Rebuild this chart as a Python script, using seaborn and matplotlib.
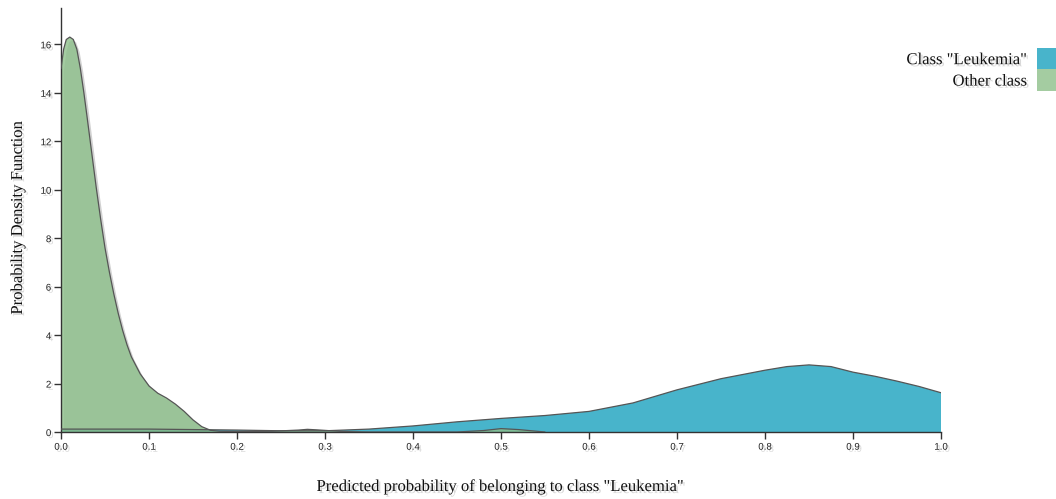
import matplotlib
matplotlib.use("Agg")
import matplotlib.pyplot as plt
import matplotlib.patheffects as pe
from matplotlib.patches import Patch
import seaborn as sns
import pandas as pd

# Density estimate for samples of the "Leukemia" class
leuk_x = [0.0, 0.1, 0.2, 0.25, 0.3, 0.35, 0.4, 0.45, 0.5, 0.55, 0.6, 0.65,
          0.7, 0.75, 0.8, 0.825, 0.85, 0.875, 0.9, 0.925, 0.95, 0.975, 1.0]
leuk_y = [0.12, 0.12, 0.08, 0.05, 0.05, 0.12, 0.25, 0.42, 0.56, 0.68, 0.85, 1.2,
          1.74, 2.2, 2.55, 2.7, 2.77, 2.7, 2.47, 2.3, 2.1, 1.88, 1.62]

# Density estimate for samples of all other classes
other_x = [0.0, 0.003, 0.006, 0.01, 0.014, 0.018, 0.022, 0.026, 0.03, 0.035, 0.04,
           0.045, 0.05, 0.055, 0.06, 0.065, 0.07, 0.075, 0.08, 0.09, 0.1, 0.11,
           0.12, 0.13, 0.14, 0.15, 0.16, 0.17, 0.18, 0.2, 0.24, 0.27, 0.28, 0.29,
           0.32, 0.35, 0.45, 0.48, 0.5, 0.52, 0.55]
other_y = [15.0, 15.8, 16.2, 16.3, 16.2, 15.8, 15.0, 14.0, 12.9, 11.5, 10.1,
           8.8, 7.6, 6.6, 5.7, 4.9, 4.2, 3.6, 3.1, 2.4, 1.9, 1.6,
           1.4, 1.15, 0.85, 0.5, 0.22, 0.07, 0.03, 0.02, 0.03, 0.08, 0.11, 0.09,
           0.02, 0.0, 0.0, 0.06, 0.14, 0.1, 0.0]

series_names = ['Class "Leukemia"', "Other class"]
series_colors = ["#48b4cb", "#8dc08a"]

x_ticks = [0.0, 0.1, 0.2, 0.3, 0.4, 0.5, 0.6, 0.7, 0.8, 0.9, 1.0]
y_ticks = [0, 2, 4, 6, 8, 10, 12, 14, 16]

x_label = 'Predicted probability of belonging to class "Leukemia"'
y_label = "Probability Density Function"

sns.set_theme(style="white")
plt.rcParams["font.family"] = ["Liberation Serif", "DejaVu Serif"]

leuk = pd.DataFrame({"p": leuk_x, "density": leuk_y})
other = pd.DataFrame({"p": other_x, "density": other_y})

fig = plt.figure(figsize=(10.56, 4.99), dpi=100)
ax = fig.add_axes([61 / 1056, (499 - 432) / 499, 880 / 1056, 424 / 499])

shadow = [pe.SimplePatchShadow(offset=(2, -2), shadow_rgbFace="#000000", alpha=0.18),
          pe.Normal()]
text_shadow = [pe.withSimplePatchShadow(offset=(1.5, -1.5), shadow_rgbFace="#000000",
                                        alpha=0.15)]

for df, color, alpha in [(leuk, series_colors[0], 1.0), (other, series_colors[1], 0.8)]:
    poly = ax.fill_between(df["p"], df["density"], 0, color=color, alpha=alpha,
                           linewidth=0, zorder=2)
    poly.set_path_effects(shadow)
    sns.lineplot(data=df, x="p", y="density", ax=ax, color="#555555",
                 linewidth=0.9, zorder=3, estimator=None, sort=False)

ax.set_xlim(0, 1.0)
ax.set_ylim(0, 17.5)
ax.set_xticks(x_ticks)
ax.set_xticklabels([f"{t:.1f}" for t in x_ticks])
ax.set_yticks(y_ticks)
ax.set_yticklabels([str(t) for t in y_ticks])

for lbl in ax.get_xticklabels() + ax.get_yticklabels():
    lbl.set_family(["Liberation Sans Narrow", "Liberation Sans", "DejaVu Sans"])
    lbl.set_fontsize(7)
    lbl.set_color("#222222")
    lbl.set_path_effects(text_shadow)

ax.tick_params(axis="both", which="major", direction="out", length=5, width=1,
               color="#333333", pad=2, left=True, bottom=True)

sns.despine(ax=ax)
for side in ["left", "bottom"]:
    ax.spines[side].set_color("#333333")
    ax.spines[side].set_linewidth(1)

ax.set_xlabel(x_label, fontsize=12, color="#111111", path_effects=text_shadow)
ax.set_ylabel(y_label, fontsize=12, color="#111111", path_effects=text_shadow)
ax.xaxis.label.set_va("center")
ax.yaxis.label.set_va("center")
ax.xaxis.set_label_coords((500 - 61) / 880, (432 - 487) / 424)
ax.yaxis.set_label_coords((18 - 61) / 880, (432 - 218) / 424)

handles = [Patch(facecolor=series_colors[0], edgecolor="none"),
           Patch(facecolor=series_colors[1], alpha=0.8, edgecolor="none")]
leg = fig.legend(handles, series_names, loc="upper right",
                 bbox_to_anchor=(1070 / 1056, (499 - 48) / 499),
                 frameon=False, markerfirst=False, fontsize=12,
                 handlelength=2.0, handleheight=1.6, labelspacing=0.0,
                 handletextpad=0.6, borderpad=0, borderaxespad=0)
for t in leg.get_texts():
    t.set_color("#111111")
    t.set_path_effects(text_shadow)

fig.savefig("out.png", dpi=100)
